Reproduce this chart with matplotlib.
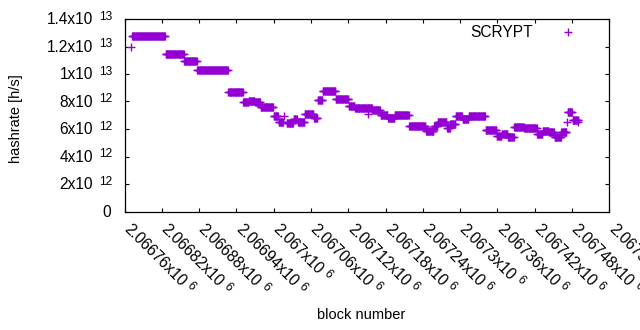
import numpy as np
import matplotlib
matplotlib.use("Agg")
import matplotlib.pyplot as plt
from matplotlib.transforms import offset_copy

plt.rcParams['font.family'] = ['Liberation Sans', 'DejaVu Sans']

# plateaus of estimated hashrate: first block, last block, hashrate (x1e12 h/s)
seg_start = [2066770, 2066772, 2066826, 2066856, 2066877, 2066927, 2066951, 2066960,
             2066970, 2066979, 2067000, 2067008, 2067016, 2067021, 2067032, 2067039,
             2067050, 2067065, 2067071, 2067079, 2067100, 2067121, 2067131, 2067152,
             2067159, 2067172, 2067184, 2067195, 2067218, 2067245, 2067258, 2067264,
             2067279, 2067284, 2067293, 2067304, 2067314, 2067341, 2067359, 2067367,
             2067377, 2067387, 2067403, 2067424, 2067433, 2067443, 2067452, 2067463,
             2067472, 2067473, 2067481, 2067489]
seg_end = [2066770, 2066825, 2066855, 2066876, 2066926, 2066950, 2066959, 2066969,
           2066978, 2066999, 2067007, 2067015, 2067016, 2067031, 2067037, 2067049,
           2067064, 2067070, 2067078, 2067099, 2067120, 2067130, 2067158, 2067152,
           2067171, 2067183, 2067194, 2067217, 2067244, 2067257, 2067263, 2067278,
           2067283, 2067292, 2067303, 2067313, 2067340, 2067358, 2067366, 2067376,
           2067386, 2067402, 2067423, 2067432, 2067442, 2067451, 2067462, 2067471,
           2067472, 2067480, 2067490, 2067489]
seg_value = [11.93, 12.80, 11.43, 10.92, 10.27, 8.67, 7.93, 8.07,
             7.95, 7.63, 6.91, 6.54, 6.96, 6.47, 6.72, 6.50,
             7.10, 6.81, 8.09, 8.75, 8.16, 7.68, 7.52, 7.10,
             7.35, 7.00, 6.83, 6.99, 6.23, 5.82, 6.25, 6.54,
             6.06, 6.40, 6.91, 6.72, 6.91, 5.96, 5.51, 5.65,
             5.41, 6.16, 6.04, 5.63, 5.89, 5.78, 5.41, 5.78,
             6.54, 7.22, 6.68, 6.50]

ytick_values = [0, 2e12, 4e12, 6e12, 8e12, 1e13, 1.2e13, 1.4e13]
ytick_mant = ["0", "2x10", "4x10", "6x10", "8x10", "1x10", "1.2x10", "1.4x10"]
ytick_exp = ["", "12", "12", "12", "12", "13", "13", "13"]
xtick_values = [2066760, 2066820, 2066880, 2066940, 2067000, 2067060, 2067120,
                2067180, 2067240, 2067300, 2067360, 2067420, 2067480, 2067540]
xtick_mant = ["2.06676x10", "2.06682x10", "2.06688x10", "2.06694x10", "2.067x10",
              "2.06706x10", "2.06712x10", "2.06718x10", "2.06724x10", "2.0673x10",
              "2.06736x10", "2.06742x10", "2.06748x10", "2.06754x10"]
xtick_exp = ["6"] * 14

blocks = []
rates = []
for s, e, v in zip(seg_start, seg_end, seg_value):
    b = np.arange(s, e + 1)
    blocks.append(b)
    rates.append(np.full(len(b), v * 1e12))
blocks = np.concatenate(blocks)
rates = np.concatenate(rates)

W, H = 640, 330
L, R, T, B = 124.5, 609.3, 19.0, 211.5
fig = plt.figure(figsize=(6.4, 3.3), dpi=100)
ax = fig.add_axes([L / W, 1 - B / H, (R - L) / W, (B - T) / H])
ax.plot(blocks, rates, linestyle='none', marker='+', markersize=5.5,
        markeredgewidth=1.0, color='#9400D3', label='SCRYPT')

ax.set_xlim(2066760, 2067540)
ax.set_ylim(0, 1.4e13)
ax.set_yticks(ytick_values)
ax.set_xticks(xtick_values)
ax.set_yticklabels([])
ax.set_xticklabels([])
ax.tick_params(direction='in', length=3, width=0.8, top=True, right=True,
               color='black')
for sp in ax.spines.values():
    sp.set_linewidth(0.9)
    sp.set_color('black')

FS = 11.2
FSS = 8.6
renderer = fig.canvas.get_renderer()

# y tick labels with gnuplot-style superscripts
ytr = ax.get_yaxis_transform()
for v, m, e in zip(ytick_values, ytick_mant, ytick_exp):
    if e:
        ax.text(0, v, m, fontsize=FS, ha='right', va='baseline', clip_on=False,
                transform=offset_copy(ytr, fig=fig, x=-31.5, y=-5.3, units='dots'))
        ax.text(0, v, e, fontsize=FSS, ha='right', va='baseline', clip_on=False,
                transform=offset_copy(ytr, fig=fig, x=-12.3, y=-0.6, units='dots'))
    else:
        ax.text(0, v, m, fontsize=FS, ha='right', va='baseline', clip_on=False,
                transform=offset_copy(ytr, fig=fig, x=-13.5, y=-5.3, units='dots'))

# x tick labels rotated by -45 degrees with superscripts
xtr = ax.get_xaxis_transform()
d = np.array([np.cos(np.radians(-45)), np.sin(np.radians(-45))])
u = np.array([-np.sin(np.radians(-45)), np.cos(np.radians(-45))])
base = np.array([-1.4, -18.4])
gap, raise_ = 4.0, 4.8
for v, m, e in zip(xtick_values, xtick_mant, xtick_exp):
    t = ax.text(0, v, m, fontsize=FS, rotation=0)
    w = t.get_window_extent(renderer).width
    t.remove()
    ax.text(v, 0, m, fontsize=FS, rotation=-45, rotation_mode='anchor',
            ha='left', va='baseline', clip_on=False,
            transform=offset_copy(xtr, fig=fig, x=base[0], y=base[1], units='dots'))
    p = base + d * (w + gap) + u * raise_
    ax.text(v, 0, e, fontsize=FSS, rotation=-45, rotation_mode='anchor',
            ha='left', va='baseline', clip_on=False,
            transform=offset_copy(xtr, fig=fig, x=p[0], y=p[1], units='dots'))

fig.text(16 / W, 1 - 119 / H, 'hashrate [h/s]', rotation=90, ha='center',
         va='center', fontsize=10.5)
fig.text(361 / W, 1 - 315 / H, 'block number', ha='center', va='center',
         fontsize=10.5)

leg = ax.legend(loc='upper right', bbox_to_anchor=((575.5 - L) / (R - L), (B - 25.0) / (B - T)),
                frameon=False, markerfirst=False, fontsize=FS, handlelength=1.0,
                handletextpad=1.75, borderaxespad=0, borderpad=0)

fig.savefig('out.png', dpi=100)
